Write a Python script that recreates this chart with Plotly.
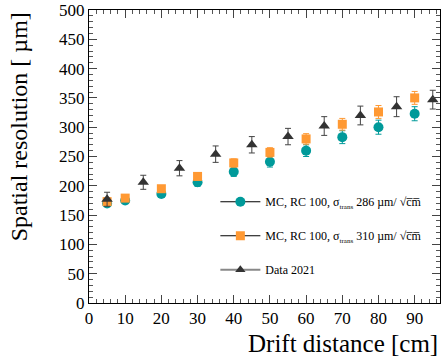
import plotly.graph_objects as go

dist_mc = [5, 10, 20, 30, 40, 50, 60, 70, 80, 90]
res_286 = [170, 175, 186, 206, 224, 241, 260, 283, 300, 323]
err_286 = [5, 5, 6, 7, 8, 9, 10, 11, 12, 12]
res_310 = [173, 179, 195, 216, 239, 257, 280, 305, 326, 350]
err_310 = [4, 4, 5, 6, 7, 8, 9, 10, 11, 11]
dist_data = [5, 15, 25, 35, 45, 55, 65, 75, 85, 95]
res_data = [177, 206, 230, 254, 270, 284, 302, 320, 335, 347]
err_data = [12, 12, 13, 14, 14, 14, 16, 16, 17, 16]

TEAL = "#009a9a"
ORANGE = "#ff9933"
DARK = "#333333"
FONT = "Liberation Serif"

sub = "<sub><span style='font-size:7px'>trans</span></sub>"
lab1 = "MC, RC 100, σ" + sub + " 286 µm/ √c\u0305m\u0305"
lab2 = "MC, RC 100, σ" + sub + " 310 µm/ √c\u0305m\u0305"
lab3 = "Data 2021"

fig = go.Figure()
fig.add_trace(go.Scatter(x=dist_mc, y=res_286, mode="markers",
                         marker=dict(symbol="circle", size=10, color=TEAL),
                         error_y=dict(type="data", array=err_286, color=TEAL, thickness=1, width=3),
                         showlegend=False))
fig.add_trace(go.Scatter(x=dist_mc, y=res_310, mode="markers",
                         marker=dict(symbol="square", size=9, color=ORANGE),
                         error_y=dict(type="data", array=err_310, color=ORANGE, thickness=1, width=3),
                         showlegend=False))
fig.add_trace(go.Scatter(x=dist_data, y=res_data, mode="markers",
                         marker=dict(symbol="triangle-up", size=10, color=DARK),
                         error_y=dict(type="data", array=err_data, color="#444444", thickness=1, width=3),
                         showlegend=False))

fig.add_trace(go.Scatter(x=[None], y=[None], mode="lines+markers", name=lab1, legendgroup="a",
                         line=dict(color="black", width=1),
                         marker=dict(symbol="circle", size=10, color=TEAL)))
fig.add_trace(go.Scatter(x=[None], y=[None], mode="lines+markers", name=lab2, legendgroup="b",
                         line=dict(color="black", width=1),
                         marker=dict(symbol="square", size=9, color=ORANGE)))
fig.add_trace(go.Scatter(x=[None], y=[None], mode="lines+markers", name=lab3, legendgroup="c",
                         line=dict(color="#888888", width=2),
                         marker=dict(symbol="triangle-up", size=9, color=DARK)))

axis_common = dict(showgrid=False, zeroline=False, showline=True, linecolor="black", linewidth=1,
                   mirror="allticks", ticks="inside", ticklen=8, tickcolor="#444444",
                   tickfont=dict(family=FONT, size=17, color="black"))

fig.update_xaxes(range=[0, 97], dtick=10, tick0=0,
                 minor=dict(dtick=2, ticks="inside", ticklen=4, tickcolor="#555555"),
                 **axis_common)
fig.update_yaxes(range=[0, 500], dtick=50, tick0=0,
                 minor=dict(dtick=10, ticks="inside", ticklen=4, tickcolor="#555555"),
                 **axis_common)

fig.update_layout(
    width=441, height=358,
    margin=dict(l=89, r=1, t=10, b=55, autoexpand=False),
    paper_bgcolor="white", plot_bgcolor="white",
    legend=dict(x=0.36, y=0.395, xanchor="left", yanchor="top",
                bgcolor="rgba(0,0,0,0)", borderwidth=0,
                font=dict(family=FONT, size=12, color="black"),
                tracegroupgap=15, itemwidth=40),
    annotations=[
        dict(text="Drift distance [cm]", xref="paper", yref="paper", x=1.0, y=-0.138,
             xanchor="right", yanchor="middle", showarrow=False,
             font=dict(family=FONT, size=25, color="black")),
        dict(text="Spatial resolution [ µm]", xref="paper", yref="paper", x=-0.2, y=1.0,
             xanchor="center", yanchor="top", textangle=-90, showarrow=False,
             font=dict(family=FONT, size=24, color="black")),
    ],
)

fig.write_html("out.html")
